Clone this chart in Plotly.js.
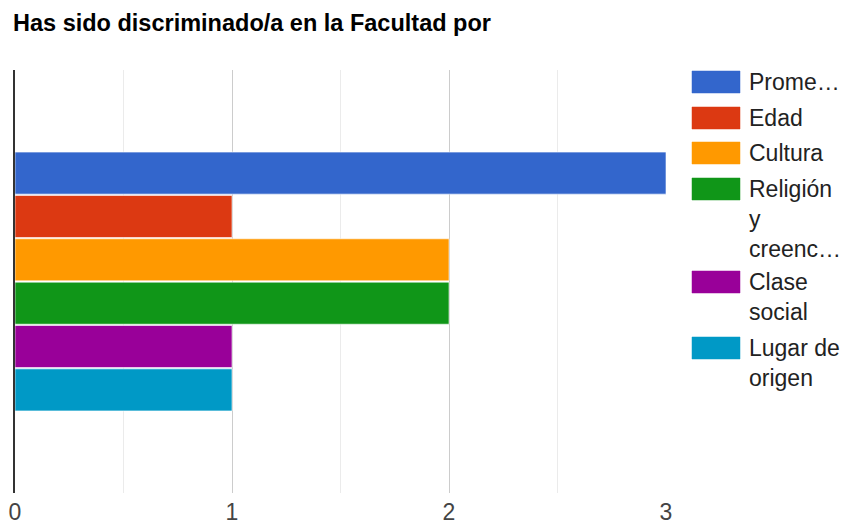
<!DOCTYPE html>
<html>
<head>
<meta charset="utf-8">
<script src="https://cdn.plot.ly/plotly-3.0.1.min.js"></script>
<style>html,body{margin:0;padding:0;background:#fff}#chart{width:846px;height:527px}</style>
</head>
<body>
<div id="chart"></div>
<script>
const titleText = "Has sido discriminado/a en la Facultad por";
const category = [""];
const seriesNames = ["Prome…", "Edad", "Cultura", "Religión y creenc…", "Clase social", "Lugar de origen"];
const legendLines = [["Prome…"], ["Edad"], ["Cultura"], ["Religión", "y", "creenc…"], ["Clase", "social"], ["Lugar de", "origen"]];
const seriesValues = [3, 1, 2, 2, 1, 1];
const colors = ["#3366cc", "#dc3912", "#ff9900", "#109618", "#990099", "#0099c6"];
const xTicks = [0, 1, 2, 3];

const W = 846, H = 527;
const mL = 15, mR = 180, mT = 70, mB = 34;
const pw = W - mL - mR, ph = H - mT - mB;
const px2x = p => (p - mL) / pw;
const py2y = p => (H - mB - p) / ph;

const traces = seriesNames.map((n, i) => ({
  type: "bar", orientation: "h", name: n,
  y: category, x: [seriesValues[i]],
  marker: {color: colors[i], line: {color: "rgba(255,255,255,0.6)", width: 1}},
  hoverinfo: "x+name", showlegend: false
}));

const shapes = [], annotations = [];
const swatchCenters = [82, 118, 153, 189, 282, 348];
const lineGap = 30;
legendLines.forEach((lines, i) => {
  const c = swatchCenters[i];
  shapes.push({type: "rect", xref: "paper", yref: "paper",
    x0: px2x(692), x1: px2x(740), y0: py2y(c + 11), y1: py2y(c - 11),
    fillcolor: colors[i], line: {color: colors[i], width: 0.5}});
  lines.forEach((t, k) => {
    annotations.push({xref: "paper", yref: "paper", x: px2x(747), y: py2y(c + k * lineGap),
      xanchor: "left", yanchor: "middle", showarrow: false, text: t,
      font: {family: "Liberation Sans, Arial, sans-serif", size: 23, color: "#222222"}});
  });
});

const layout = {
  width: W, height: H,
  margin: {l: mL, r: mR, t: mT, b: mB, pad: 0},
  paper_bgcolor: "#ffffff", plot_bgcolor: "#ffffff",
  title: {text: "<b>" + titleText + "</b>", x: 13 / W, xanchor: "left", y: 1 - 23 / H, yanchor: "middle",
    font: {family: "Liberation Sans, Arial, sans-serif", size: 23.5, color: "#000000"}},
  barmode: "group", bargap: 0.385, bargroupgap: 0.03,
  xaxis: {range: [0, 3], tickvals: xTicks, ticktext: xTicks.map(String), showgrid: true, gridcolor: "#cccccc", gridwidth: 1,
    minor: {dtick: 0.5, tick0: 0, showgrid: true, gridcolor: "#ebebeb", gridwidth: 1},
    zeroline: false, showline: false, ticks: "", ticklabelstandoff: 3,
    tickfont: {family: "Liberation Sans, Arial, sans-serif", size: 23, color: "#444444"}, fixedrange: true},
  yaxis: {autorange: "reversed", showline: true, linecolor: "#333333", linewidth: 2, showticklabels: false,
    showgrid: false, zeroline: false, ticks: "", fixedrange: true},
  shapes: shapes, annotations: annotations, showlegend: false
};
Plotly.newPlot("chart", traces, layout, {displayModeBar: false, staticPlot: true});
</script>
</body>
</html>
